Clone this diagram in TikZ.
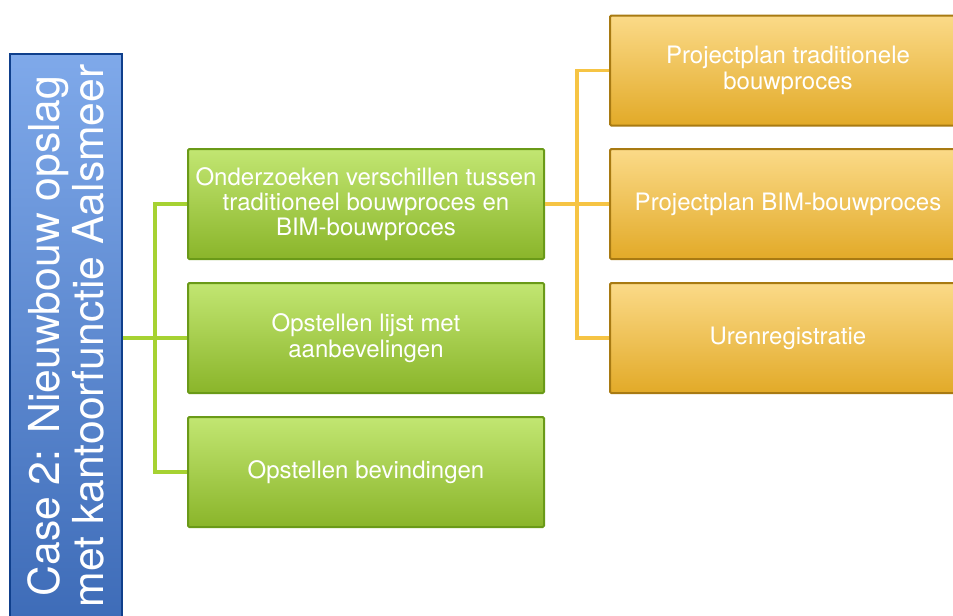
\documentclass[tikz,border=0pt]{standalone}
\usepackage{fontspec}
\setmainfont{TeX Gyre Heros}
\usetikzlibrary{positioning}

\definecolor{blauwlicht}{HTML}{7FA9EA}
\definecolor{blauwdonker}{HTML}{3E6CB8}
\definecolor{blauwrand}{HTML}{0F3F8C}
\definecolor{groenlicht}{HTML}{C2E672}
\definecolor{groendonker}{HTML}{8AB52A}
\definecolor{groenrand}{HTML}{6A9A18}
\definecolor{groenlijn}{HTML}{A6D232}
\definecolor{oranjelicht}{HTML}{FBDA88}
\definecolor{oranjedonker}{HTML}{E2AA28}
\definecolor{oranjerand}{HTML}{A87A12}
\definecolor{oranjelijn}{HTML}{F6C444}

\begin{document}
\begin{tikzpicture}[
        x = 0.75pt, y = -0.75pt, % pixel grid
        casebox/.style = {draw=blauwrand, line width=1.5pt, top color=blauwlicht,
            bottom color=blauwdonker, text=white, rotate=90, align=center,
            minimum width=423pt, minimum height=84pt, inner sep=0pt,
            font=\fontsize{32}{33}\selectfont},
        taak/.style = {draw=groenrand, line width=1.5pt, top color=groenlicht,
            bottom color=groendonker, text=white, align=center, rounded corners=1pt,
            minimum width=267pt, minimum height=82.5pt, inner sep=2pt,
            font=\fontsize{18}{19}\selectfont},
        product/.style = {taak, draw=oranjerand, top color=oranjelicht,
            bottom color=oranjedonker},
        glijn/.style = {draw=groenlijn, line width=2.4pt},
        olijn/.style = {draw=oranjelijn, line width=2.4pt}
        ]

  \useasboundingbox (0,0) rectangle (953,615);
  \clip (0,0) rectangle (953,615);

  \node[casebox] (case) at (66,336) {Case 2: Nieuwbouw opslag\\met kantoorfunctie Aalsmeer};

  \node[taak] (t1) at (366,204) {Onderzoeken verschillen tussen\\traditioneel bouwproces en\\BIM-bouwproces};
  \node[taak] (t2) at (366,338) {Opstellen lijst met\\aanbevelingen};
  \node[taak] (t3) at (366,472) {Opstellen bevindingen};

  \node[product] (p1) at (788,70.5) {Projectplan traditionele\\bouwproces};
  \node[product] (p2) at (788,204) {Projectplan BIM-bouwproces};
  \node[product] (p3) at (788,338) {Urenregistratie};

  \coordinate (gsplit) at (155,338);
  \coordinate (osplit) at (577,204);

  \draw[glijn] (case.south |- t2.west) -- (t2.west);
  \draw[glijn] (t1.west) -| (gsplit) |- (t3.west);

  \draw[olijn] (t1.east) -- (p2.west);
  \draw[olijn] (p1.west) -| (osplit) |- (p3.west);

\end{tikzpicture}
\end{document}
